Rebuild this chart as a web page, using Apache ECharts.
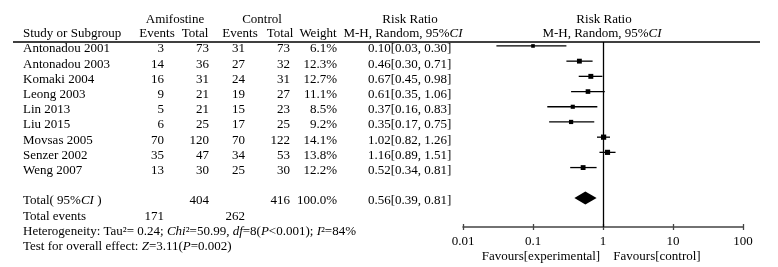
<!DOCTYPE html>
<html>
<head>
<meta charset="utf-8">
<style>
html, body { margin: 0; padding: 0; background: #fff; }
#chart { width: 778px; height: 267px; }
</style>
<script src="https://cdn.jsdelivr.net/npm/echarts@6/dist/echarts.min.js"></script>
</head>
<body>
<div id="chart"></div>
<script>
const studies = ['Antonadou 2001', 'Antonadou 2003', 'Komaki 2004', 'Leong 2003', 'Lin 2013', 'Liu 2015', 'Movsas 2005', 'Senzer 2002', 'Weng 2007']
const amiEvents = [3, 14, 16, 9, 5, 6, 70, 35, 13]
const amiTotal = [73, 36, 31, 21, 21, 25, 120, 47, 30]
const ctlEvents = [31, 27, 24, 19, 15, 17, 70, 34, 25]
const ctlTotal = [73, 32, 31, 27, 23, 25, 122, 53, 30]
const weights = [6.1, 12.3, 12.7, 11.1, 8.5, 9.2, 14.1, 13.8, 12.2]
const rr = [0.10, 0.46, 0.67, 0.61, 0.37, 0.35, 1.02, 1.16, 0.52]
const ciLow = [0.03, 0.30, 0.45, 0.35, 0.16, 0.17, 0.82, 0.89, 0.34]
const ciHigh = [0.30, 0.71, 0.98, 1.06, 0.83, 0.75, 1.26, 1.51, 0.81]
const pooled = [0.56, 0.39, 0.81] // rr, low, high
const totalN = [404, 416]
const totalEvents = [171, 262]
const tickLabels = ['0.01', '0.1', '1', '10', '100']
// heterogeneity / overall effect
const tau2 = '0.24'
const chi2 = '50.99'
const dfHet = 8
const pHet = '<0.001'
const i2 = 84
const zVal = '3.11'
const pOverall = '=0.002'

const FAMILY = '"Liberation Serif", "Times New Roman", serif'
const FS = 13
const INK = '#000'
const rich = {
  n: { fontSize: FS, fontFamily: FAMILY, fill: INK, fontStyle: 'normal' },
  i: { fontSize: FS, fontFamily: FAMILY, fill: INK, fontStyle: 'italic' }
}

const TOTAL_ROW = 10
const TEXT_SHIFT = 3 // table text sits a little below the marker rows

function txt(x, y, text, align) {
  return {
    type: 'text',
    x: x,
    y: y,
    style: {
      text: text,
      rich: rich,
      fontSize: FS,
      fontFamily: FAMILY,
      fill: INK,
      textAlign: align || 'left',
      textVerticalAlign: 'middle'
    }
  }
}

const fmt = (v) => v.toFixed(2)

// table rows: [x, row index, kind]
const tableRows = studies.map((s, i) => [1, i, i])
tableRows.push([1, TOTAL_ROW, -1], [1, TOTAL_ROW + 1, -2], [1, TOTAL_ROW + 2, -3], [1, TOTAL_ROW + 3, -4])

function renderTable(params, api) {
  const y = api.coord([1, api.value(1)])[1] + TEXT_SHIFT
  const k = api.value(2)
  let cells = []
  if (k >= 0) {
    cells = [
      txt(23, y, '{n|' + studies[k] + '}'),
      txt(164, y, '{n|' + amiEvents[k] + '}', 'right'),
      txt(209, y, '{n|' + amiTotal[k] + '}', 'right'),
      txt(245, y, '{n|' + ctlEvents[k] + '}', 'right'),
      txt(290, y, '{n|' + ctlTotal[k] + '}', 'right'),
      txt(337, y, '{n|' + weights[k].toFixed(1) + '%}', 'right'),
      txt(368, y, '{n|' + fmt(rr[k]) + '[' + fmt(ciLow[k]) + ', ' + fmt(ciHigh[k]) + ']}')
    ]
  } else if (k === -1) {
    const wSum = weights.reduce((a, b) => a + b, 0)
    cells = [
      txt(23, y, '{n|Total( 95%}{i|CI}{n| )}'),
      txt(209, y, '{n|' + totalN[0] + '}', 'right'),
      txt(290, y, '{n|' + totalN[1] + '}', 'right'),
      txt(337, y, '{n|' + wSum.toFixed(1) + '%}', 'right'),
      txt(368, y, '{n|' + fmt(pooled[0]) + '[' + fmt(pooled[1]) + ', ' + fmt(pooled[2]) + ']}')
    ]
  } else if (k === -2) {
    cells = [
      txt(23, y, '{n|Total events}'),
      txt(164, y, '{n|' + totalEvents[0] + '}', 'right'),
      txt(245, y, '{n|' + totalEvents[1] + '}', 'right')
    ]
  } else if (k === -3) {
    cells = [
      txt(23, y, '{n|Heterogeneity: Tau²= ' + tau2 + '; }{i|Chi}{n|²=' + chi2 + ', }{i|df}{n|=' + dfHet + '(}{i|P}{n|' + pHet + '); }{i|I}{n|²=' + i2 + '%}')
    ]
  } else {
    cells = [
      txt(23, y, '{n|Test for overall effect: }{i|Z}{n|=' + zVal + '(}{i|P}{n|' + pOverall + ')}')
    ]
  }
  return { type: 'group', children: cells }
}

function renderStudy(params, api) {
  const row = api.value(1)
  const c = api.coord([api.value(0), row])
  const l = api.coord([api.value(2), row])
  const h = api.coord([api.value(3), row])
  const s = 2.4 + api.value(4) * 0.2
  return {
    type: 'group',
    children: [
      { type: 'line', shape: { x1: l[0], y1: c[1], x2: h[0], y2: c[1] }, style: { stroke: '#000', lineWidth: 1.3 } },
      { type: 'rect', shape: { x: c[0] - s / 2, y: c[1] - s / 2, width: s, height: s }, style: { fill: '#000' } }
    ]
  }
}

function renderDiamond(params, api) {
  const row = api.value(1)
  const c = api.coord([api.value(0), row])
  const l = api.coord([api.value(2), row])
  const h = api.coord([api.value(3), row])
  const hh = 6.5
  return {
    type: 'polygon',
    shape: { points: [[l[0], c[1]], [c[0], c[1] - hh], [h[0], c[1]], [c[0], c[1] + hh]] },
    style: { fill: '#000' }
  }
}

const chart = echarts.init(document.getElementById('chart'))

const axisCommon = {
  type: 'log',
  logBase: 10,
  min: 0.01,
  max: 100,
  splitLine: { show: false },
  position: 'bottom'
}

chart.setOption({
  animation: false,
  grid: { left: 463, right: 35, top: 42, bottom: 40 },
  xAxis: [
    Object.assign({}, axisCommon, {
      axisLine: { onZero: false, lineStyle: { color: '#444', width: 1.5 } },
      axisTick: { length: 3, lineStyle: { color: '#444', width: 1.3 } },
      axisLabel: {
        margin: 8,
        fontFamily: FAMILY,
        fontSize: FS,
        color: INK,
        formatter: (v, idx) => tickLabels[idx]
      }
    }),
    Object.assign({}, axisCommon, {
      axisLine: { show: false, onZero: false },
      axisTick: { inside: true, length: 3, lineStyle: { color: '#444', width: 1.3 } },
      axisLabel: { show: false }
    })
  ],
  yAxis: {
    type: 'value',
    inverse: true,
    min: -0.26,
    max: 11.91,
    show: false
  },
  graphic: [
    { type: 'line', shape: { x1: 13, y1: 42, x2: 760, y2: 42 }, style: { stroke: '#000', lineWidth: 1.6 } },
    txt(175, 20, '{n|Amifostine}', 'center'),
    txt(262, 20, '{n|Control}', 'center'),
    txt(410, 20, '{n|Risk Ratio}', 'center'),
    txt(604, 20, '{n|Risk Ratio}', 'center'),
    txt(23, 34, '{n|Study or Subgroup}'),
    txt(157, 34, '{n|Events}', 'center'),
    txt(195, 34, '{n|Total}', 'center'),
    txt(240, 34, '{n|Events}', 'center'),
    txt(280, 34, '{n|Total}', 'center'),
    txt(318, 34, '{n|Weight}', 'center'),
    txt(403, 34, '{n|M-H, Random, 95%}{i|CI}', 'center'),
    txt(602, 34, '{n|M-H, Random, 95%}{i|CI}', 'center'),
    txt(541, 257, '{n|Favours[experimental]}', 'center'),
    txt(657, 257, '{n|Favours[control]}', 'center')
  ],
  series: [
    {
      type: 'custom',
      name: 'studies',
      renderItem: renderStudy,
      data: rr.map((v, i) => [v, i, ciLow[i], ciHigh[i], weights[i]]),
      encode: { x: 0, y: 1 },
      markLine: {
        silent: true,
        symbol: 'none',
        label: { show: false },
        lineStyle: { color: '#000', width: 1.3, type: 'solid' },
        data: [{ xAxis: 1 }]
      }
    },
    {
      type: 'custom',
      name: 'pooled',
      renderItem: renderDiamond,
      data: [[pooled[0], TOTAL_ROW, pooled[1], pooled[2]]],
      encode: { x: 0, y: 1 }
    },
    {
      type: 'custom',
      name: 'table',
      renderItem: renderTable,
      clip: false,
      data: tableRows,
      encode: { x: 0, y: 1 }
    }
  ]
})

window.addEventListener('resize', () => chart.resize())
</script>
</body>
</html>
